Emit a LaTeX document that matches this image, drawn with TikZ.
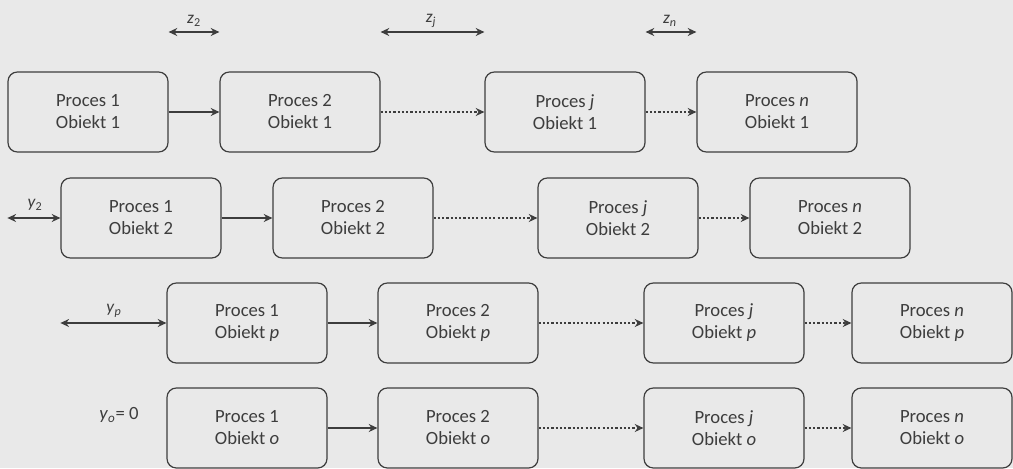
\documentclass[tikz,border=0pt]{standalone}
\usepackage{fontspec}
\setmainfont{Carlito}
\usetikzlibrary{arrows.meta}
\definecolor{paper}{gray}{0.915}
\definecolor{ink}{gray}{0.24}
\tikzset{
  procbox/.style={draw=ink, line width=0.9pt, rounded corners=7pt,
    minimum width=120pt, minimum height=60pt, inner sep=0pt,
    align=center, text=ink, font=\fontsize{14}{16.5}\selectfont},
  conn/.style={draw=ink, line width=0.9pt, -{Stealth[length=6.5pt,width=6pt]}},
  dotconn/.style={conn, dash pattern=on 1.6pt off 1.6pt},
  span/.style={draw=ink, line width=0.9pt,
    {Stealth[length=6.5pt,width=6pt]}-{Stealth[length=6.5pt,width=6pt]}},
  lbl/.style={text=ink, inner sep=0pt, font=\fontsize{13}{15}\selectfont},
  biglbl/.style={text=ink, inner sep=0pt, font=\fontsize{14}{16}\selectfont}
}
\begin{document}
\begin{tikzpicture}[x=0.75pt, y=-0.75pt]
\fill[paper] (0,0) rectangle (1013,468);
\useasboundingbox (0,0) rectangle (1013,468);

% row 1 -- object 1
\node[procbox] (a1) at (88,112)  {Proces 1\\Obiekt 1};
\node[procbox] (a2) at (300,112) {Proces 2\\Obiekt 1};
\node[procbox] (aj) at (565,112) {Proces \textit{j}\\Obiekt 1};
\node[procbox] (an) at (777,112) {Proces \textit{n}\\Obiekt 1};
% row 2 -- object 2
\node[procbox] (b1) at (141,218) {Proces 1\\Obiekt 2};
\node[procbox] (b2) at (353,218) {Proces 2\\Obiekt 2};
\node[procbox] (bj) at (618,218) {Proces \textit{j}\\Obiekt 2};
\node[procbox] (bn) at (830,218) {Proces \textit{n}\\Obiekt 2};
% row 3 -- object p
\node[procbox] (c1) at (247,323) {Proces 1\\Obiekt \textit{p}};
\node[procbox] (c2) at (458,323) {Proces 2\\Obiekt \textit{p}};
\node[procbox] (cj) at (724,323) {Proces \textit{j}\\Obiekt \textit{p}};
\node[procbox] (cn) at (932,323) {Proces \textit{n}\\Obiekt \textit{p}};
% row 4 -- object o
\node[procbox] (d1) at (247,428) {Proces 1\\Obiekt \textit{o}};
\node[procbox] (d2) at (458,428) {Proces 2\\Obiekt \textit{o}};
\node[procbox] (dj) at (724,428) {Proces \textit{j}\\Obiekt \textit{o}};
\node[procbox] (dn) at (932,428) {Proces \textit{n}\\Obiekt \textit{o}};

% flow along each row
\foreach \r in {a,b,c,d}{
  \draw[conn]    (\r1.east) -- (\r2.west);
  \draw[dotconn] (\r2.east) -- (\r j.west);
  \draw[dotconn] (\r j.east) -- (\r n.west);
}

% gaps between processes
\coordinate (top) at (0,32);
\draw[span] (a1.east |- top) -- (a2.west |- top);
\draw[span] (a2.east |- top) -- (aj.west |- top);
\draw[span] (aj.east |- top) -- (an.west |- top);
\node[lbl] (lz2) at (194,21)   {\textit{z}\textsubscript{2}};
\node[lbl] (lzj) at (431,21)   {\textit{z}\textsubscript{\textit{j}}};
\node[lbl] (lzn) at (670,21)   {\textit{z}\textsubscript{\textit{n}}};

% shifts between objects
\draw[span] (a1.west |- b1) -- (b1.west);
\draw[span] (b1.west |- c1) -- (c1.west);
\node[lbl] (ly2) at (35,205)  {\textit{y}\textsubscript{2}};
\node[lbl] (lyp) at (114,311) {\textit{y}\textsubscript{\textit{p}}};
\node[biglbl] (lyo) at (119,415) {\textit{y}\textsubscript{\textit{o}}= 0};
\end{tikzpicture}
\end{document}
